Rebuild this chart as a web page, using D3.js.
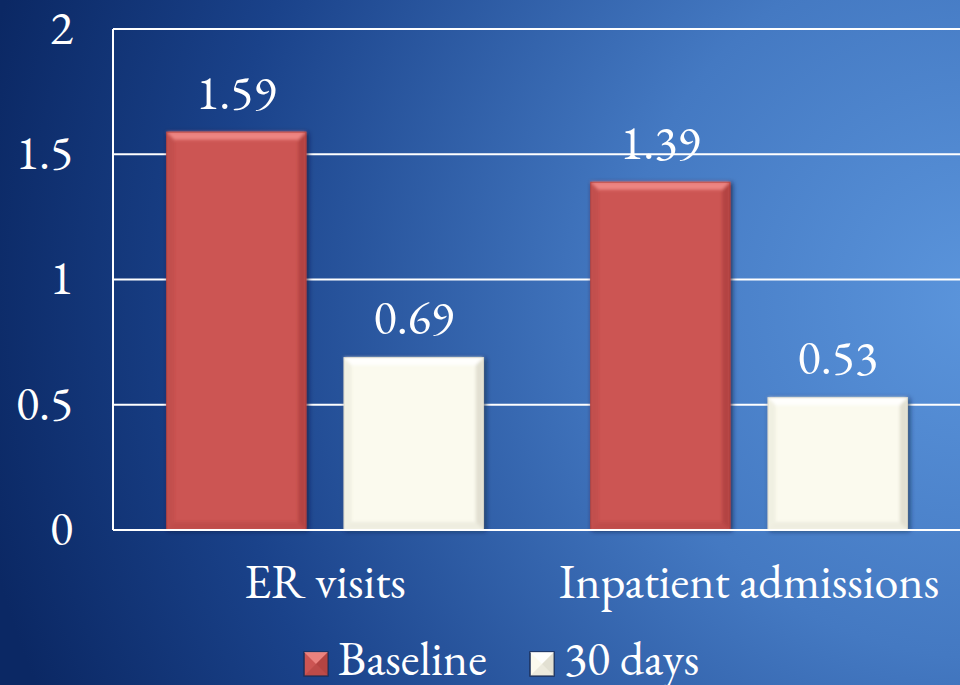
<!DOCTYPE html>
<html>
<head>
<meta charset="utf-8">
<script src="https://cdn.jsdelivr.net/npm/d3@7"></script>
<style>
  html, body { margin: 0; padding: 0; background: #0d2e6e; }
  svg { display: block; }
</style>
</head>
<body>
<svg id="chart" width="960" height="685"></svg>
<script>
// Chart data
const categories = ["ER visits", "Inpatient admissions"];
const seriesNames = ["Baseline", "30 days"];
const baselineValues = [1.59, 1.39];
const thirtyDayValues = [0.69, 0.53];
const yTicks = [0, 0.5, 1, 1.5, 2];

const seriesColors = {
  "Baseline": { base: "#cc5553", light: "#f28d89", dark: "#9c3432" },
  "30 days": { base: "#fbfaee", light: "#ffffff", dark: "#c9c6b6" }
};

const FONT = '"EB Garamond", "Liberation Serif", serif';
const FS = 48;

const W = 960, H = 685;
const margin = { top: 29, right: -1, bottom: 155, left: 113 };
const svg = d3.select("#chart");
const defs = svg.append("defs");

// Background: dark navy at left, brighter blue glow toward the right
const bg = defs.append("radialGradient").attr("id", "bg")
  .attr("gradientUnits", "userSpaceOnUse")
  .attr("cx", 980).attr("cy", 300).attr("r", 1020);
bg.append("stop").attr("offset", "0").attr("stop-color", "#5b95dc");
bg.append("stop").attr("offset", "0.35").attr("stop-color", "#4479c2");
bg.append("stop").attr("offset", "0.75").attr("stop-color", "#1a428a");
bg.append("stop").attr("offset", "1").attr("stop-color", "#0b2864");
svg.append("rect").attr("width", W).attr("height", H).attr("fill", "url(#bg)");

// Soft shadow for the bars
const sh = defs.append("filter").attr("id", "shadow")
  .attr("x", "-10%").attr("y", "-10%").attr("width", "130%").attr("height", "130%");
sh.append("feDropShadow").attr("dx", 2).attr("dy", 1).attr("stdDeviation", 2.5)
  .attr("flood-color", "#061a40").attr("flood-opacity", 0.7);

const blur = defs.append("filter").attr("id", "soft");
blur.append("feGaussianBlur").attr("stdDeviation", 1.5);

const plotW = W - margin.left - margin.right;
const plotH = H - margin.top - margin.bottom;

const x0 = d3.scaleBand().domain(categories)
  .range([margin.left, margin.left + plotW])
  .paddingInner(0).paddingOuter(0);
const x1 = d3.scaleBand().domain(seriesNames)
  .range([0, x0.bandwidth()])
  .paddingInner(0.21).paddingOuter(0.3);
const y = d3.scaleLinear().domain([0, 2]).range([margin.top + plotH, margin.top]);

function styleText(sel) {
  sel.style("font-family", FONT).style("font-size", FS + "px").style("fill", "#ffffff");
}

// Gridlines
svg.append("g").selectAll("line").data(yTicks.filter(d => d > 0)).join("line")
  .attr("x1", margin.left).attr("x2", W)
  .attr("y1", d => y(d)).attr("y2", d => y(d))
  .attr("stroke", "#ffffff").attr("stroke-width", 2);

// Y axis labels
const yAxis = d3.axisLeft(y).tickValues(yTicks).tickSize(0).tickPadding(0)
  .tickFormat(d3.format("~g"));
const yg = svg.append("g").attr("transform", `translate(${margin.left - 40},0)`).call(yAxis);
yg.select(".domain").remove();
yg.selectAll("text").call(styleText).attr("dy", "0.3em");

// Plot frame: left axis line
svg.append("line").attr("x1", margin.left).attr("x2", margin.left)
  .attr("y1", y(2)).attr("y2", y(0)).attr("stroke", "#fff").attr("stroke-width", 2);

// Bars
const rows = categories.map((c, i) => ({
  category: c,
  values: [
    { series: "Baseline", value: baselineValues[i] },
    { series: "30 days", value: thirtyDayValues[i] }
  ]
}));

const pts = (arr) => arr.map(p => p.join(",")).join(" ");

function bevelBar(g, x, yTop, w, h, col, b) {
  g.append("rect").attr("x", x).attr("y", yTop).attr("width", w).attr("height", h)
    .attr("fill", col.base).attr("filter", "url(#shadow)");
  const x2 = x + w, y2 = yTop + h;
  const bev = g.append("g").attr("filter", "url(#soft)");
  // top edge highlight
  bev.append("polygon").attr("points", pts([[x, yTop], [x2, yTop], [x2 - b, yTop + b], [x + b, yTop + b]]))
    .attr("fill", col.light).attr("opacity", 0.85);
  // left edge
  bev.append("polygon").attr("points", pts([[x, yTop], [x + b, yTop + b], [x + b, y2 - b], [x, y2]]))
    .attr("fill", col.dark).attr("opacity", 0.2);
  // right edge
  bev.append("polygon").attr("points", pts([[x2, yTop], [x2, y2], [x2 - b, y2 - b], [x2 - b, yTop + b]]))
    .attr("fill", col.dark).attr("opacity", 0.5);
  // bottom edge
  bev.append("polygon").attr("points", pts([[x, y2], [x2, y2], [x2 - b, y2 - b], [x + b, y2 - b]]))
    .attr("fill", col.dark).attr("opacity", 0.25);
  g.append("rect").attr("x", x + 0.5).attr("y", yTop + 0.5).attr("width", w - 1).attr("height", h - 1)
    .attr("fill", "none").attr("stroke", col.dark).attr("stroke-width", 1).attr("opacity", 0.5);
}

const groups = svg.append("g").selectAll("g").data(rows).join("g")
  .attr("transform", d => `translate(${x0(d.category)},0)`);

groups.each(function (d) {
  const g = d3.select(this);
  d.values.forEach(v => {
    const bx = x1(v.series), bw = x1.bandwidth();
    const top = y(v.value), h = y(0) - y(v.value);
    bevelBar(g.append("g"), bx, top, bw, h, seriesColors[v.series], 8);
    g.append("text").attr("x", bx + bw / 2).attr("y", top - 23)
      .attr("text-anchor", "middle").call(styleText)
      .text(d3.format(".2f")(v.value));
  });
});

// Zero line across the plot
svg.append("line").attr("x1", margin.left).attr("x2", W)
  .attr("y1", y(0)).attr("y2", y(0)).attr("stroke", "#fff").attr("stroke-width", 2);

// Category labels
const xAxis = d3.axisBottom(x0).tickSize(0).tickPadding(0);
const xg = svg.append("g").attr("transform", `translate(0,${y(0) + 68})`).call(xAxis);
xg.select(".domain").remove();
xg.selectAll("text").call(styleText).attr("dy", 0);

// Legend
const legendItems = [
  { name: "Baseline", x: 304 },
  { name: "30 days", x: 530 }
];
const lg = svg.append("g").selectAll("g").data(legendItems).join("g")
  .attr("transform", d => `translate(${d.x},652)`);
lg.each(function (d) {
  const g = d3.select(this);
  const col = seriesColors[d.name];
  g.append("rect").attr("width", 24).attr("height", 24).attr("fill", col.base)
    .attr("stroke", "#1b2f5a").attr("stroke-width", 1.5);
  g.append("polygon").attr("points", pts([[0, 0], [24, 0], [12, 12]])).attr("fill", col.light).attr("opacity", 0.8);
  g.append("polygon").attr("points", pts([[24, 0], [24, 24], [12, 12]])).attr("fill", col.dark).attr("opacity", 0.5);
  g.append("polygon").attr("points", pts([[0, 24], [24, 24], [12, 12]])).attr("fill", col.dark).attr("opacity", 0.3);
  g.append("text").attr("x", 34).attr("y", 23).call(styleText).text(d.name);
});
</script>
</body>
</html>
